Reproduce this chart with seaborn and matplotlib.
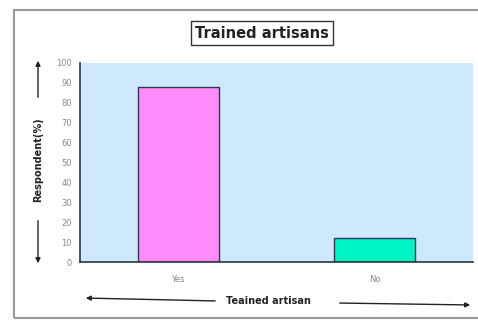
import numpy as np
import pandas as pd
import matplotlib
matplotlib.use('Agg')
import matplotlib.pyplot as plt
import seaborn as sns
from matplotlib.patches import Rectangle, FancyArrowPatch

# data
categories = ['Yes', 'No']
percent = [88, 12]
bar_colors = ['#ff8cf8', '#00f5c4']
y_ticks = list(range(0, 101, 10))

df = pd.DataFrame({'Answer': categories, 'Percent': percent})

sns.set_style('white')
plt.rcParams['font.family'] = ['DejaVu Sans']

fig = plt.figure(figsize=(4.78, 3.24), dpi=100)
ax = fig.add_axes([80 / 478, 1 - 262 / 324, 393 / 478, 199 / 324])

sns.barplot(data=df, x='Answer', y='Percent', hue='Answer', palette=bar_colors,
            saturation=1, width=0.41, edgecolor='#333355', linewidth=1.0,
            legend=False, ax=ax)

ax.set_facecolor('#cde9fb')
ax.set_ylim(0, 100)
ax.set_xlim(-0.5, 1.5)
ax.set_yticks(y_ticks)
ax.tick_params(axis='both', length=0, labelsize=6, colors='#888888', pad=6)
ax.tick_params(axis='x', pad=9)
for s in ['top', 'right']:
    ax.spines[s].set_visible(False)
ax.spines['left'].set_color('#2b3440')
ax.spines['bottom'].set_color('#2b3440')
ax.spines['left'].set_linewidth(1.2)
ax.spines['bottom'].set_linewidth(1.2)
ax.set_xlabel('')
ax.set_ylabel('')

# outer frame
fig.patches.append(Rectangle((14 / 478, 1 - 318 / 324), 470 / 478, 308 / 324,
                             transform=fig.transFigure, fill=False,
                             edgecolor='#999999', linewidth=1.5))

# boxed title
fig.text(262 / 478, 1 - 33 / 324, 'Trained artisans', ha='center', va='center',
         fontsize=10.5, fontweight='bold', color='#222222',
         bbox=dict(boxstyle='square,pad=0.3', facecolor='white', edgecolor='#333333', linewidth=1))

# y label with arrows
fig.text(38 / 478, 1 - 160 / 324, 'Respondent(%)', rotation=90, ha='center', va='center',
         fontsize=7, fontweight='bold', color='#222222')
for y0, y1 in [(100, 58), (218, 266)]:
    fig.patches.append(FancyArrowPatch((38 / 478, 1 - y0 / 324), (38 / 478, 1 - y1 / 324),
                                       transform=fig.transFigure, arrowstyle='-|>',
                                       mutation_scale=7, color='#222222', linewidth=1))

# x label with arrows
fig.text(268 / 478, 1 - 301 / 324, 'Teained artisan', ha='center', va='center',
         fontsize=7, fontweight='bold', color='#222222')
fig.patches.append(FancyArrowPatch((218 / 478, 1 - 301 / 324), (83 / 478, 1 - 298 / 324),
                                   transform=fig.transFigure, arrowstyle='-|>',
                                   mutation_scale=7, color='#222222', linewidth=1))
fig.patches.append(FancyArrowPatch((337 / 478, 1 - 303 / 324), (473 / 478, 1 - 305 / 324),
                                   transform=fig.transFigure, arrowstyle='-|>',
                                   mutation_scale=7, color='#222222', linewidth=1))

fig.savefig('out.png', dpi=100)
